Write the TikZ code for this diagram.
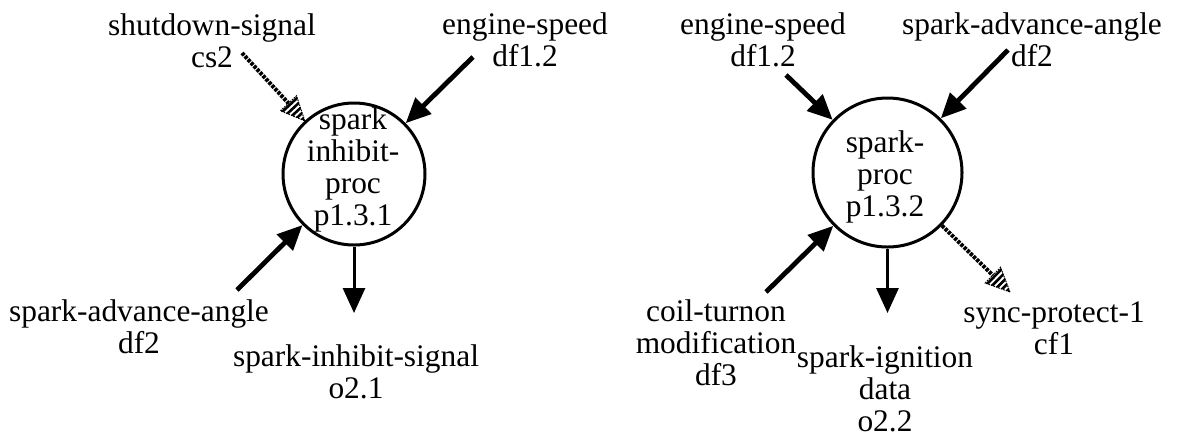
\documentclass[tikz,border=0pt]{standalone}
\usepackage{fontspec}
\setmainfont{Liberation Serif}
\usetikzlibrary{arrows.meta,calc}
\begin{document}
\begin{tikzpicture}[x=0.5pt,y=-0.5pt,
  txt/.style={font=\fontsize{15.7pt}{16pt}\selectfont, align=center, inner sep=0pt},
  proc/.style={circle, draw, line width=1.5pt, inner sep=0pt},
  flow/.style={line width=2.4pt, -{Triangle[length=12.5pt,width=11pt]}},
  outflow/.style={line width=1.5pt, -{Triangle[length=12.5pt,width=11pt]}},
  ctrl/.style={line width=2pt, dash pattern=on 1.6pt off 0.6pt},
  hatchhead/.pic={
    \begin{scope}
      \clip (0pt,0pt) -- (-12pt,5.5pt) -- (-12pt,-5.5pt) -- cycle;
      \foreach \d in {1.4pt,3.8pt,6.2pt,8.6pt,11pt}
        \draw[line width=1.3pt] (-\d,-6pt) -- (-\d,6pt);
    \end{scope}
    \draw[line width=0.5pt, dash pattern=on 0.8pt off 0.5pt]
      (0pt,0pt) -- (-12pt,5.5pt) -- (-12pt,-5.5pt) -- cycle;
  }
]
\useasboundingbox (0,0) rectangle (1183,440);

% ---- process p1.3.1 ----
\node[proc, minimum size=71pt] (c1) at (354,174) {};
\node[txt] (c1t) at (353,170) {spark\\inhibit-\\proc\\p1.3.1};

\node[txt] (sd)   at (212,41)  {shutdown-signal\\cs2};
\node[txt] (es1)  at (525,40)  {engine-speed\\df1.2};
\node[txt] (saa1) at (139,327) {spark-advance-angle\\df2};
\node[txt] (sis)  at (356,372) {spark-inhibit-signal\\o2.1};

\coordinate (sdA)  at (242,53);
\coordinate (es1A) at (473,57);
\coordinate (sa1A) at (237,290);
\coordinate (o1)   at (354,313);

% control flow with hatched head
\coordinate (sdT) at ($(c1.center)!36.2pt!(sdA)$);
\coordinate (sdB) at ($(sdT)!12pt!(sdA)$);
\draw[ctrl] (sdA) -- (sdB);
\pic[rotate=-47] at (sdT) {hatchhead};

\draw[flow] (es1A) -- (c1);
\draw[flow] (sa1A) -- (c1);
\draw[outflow] (c1) -- (o1);

% ---- process p1.3.2 ----
\node[proc, minimum size=74.5pt] (c2) at (887.5,172.5) {};
\node[txt] (c2t) at (885,177) {spark-\\proc\\p1.3.2};

\node[txt] (es2)  at (763,40)   {engine-speed\\df1.2};
\node[txt] (saa2) at (1032,40)  {spark-advance-angle\\df2};
\node[txt] (coil) at (716,343)  {coil-turnon\\modification\\df3};
\node[txt] (sid)  at (885,389)  {spark-ignition\\data\\o2.2};
\node[txt] (sp)   at (1054,328) {sync-protect-1\\cf1};

\coordinate (es2A) at (786,75);
\coordinate (sa2A) at (1008,50);
\coordinate (coA)  at (766,292);
\coordinate (o2)   at (887.5,313);
\coordinate (spT)  at (1010,292);
\coordinate (spB)  at ($(spT)!12pt!(c2.center)$);

\draw[flow] (es2A) -- (c2);
\draw[flow] (sa2A) -- (c2);
\draw[flow] (coA) -- (c2);
\draw[outflow] (c2) -- (o2);
\draw[ctrl] (c2) -- (spB);
\pic[rotate=-44.5] at (spT) {hatchhead};
\end{tikzpicture}
\end{document}
